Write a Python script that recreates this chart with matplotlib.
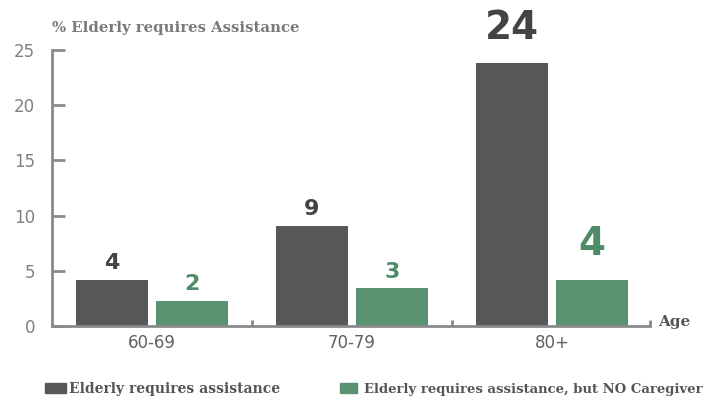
import numpy as np
import matplotlib.pyplot as plt

# data
ages = ['60-69', '70-79', '80+']
needs_help = [4.2, 9.1, 23.8]
no_caregiver = [2.3, 3.4, 4.2]
help_labels = ['4', '9', '24']
nocare_labels = ['2', '3', '4']
help_sizes = [16, 16, 28]
nocare_sizes = [16, 16, 28]

dark = '#58585b'
green = '#5a9272'
axis_gray = '#8a8a8a'

fig = plt.figure(figsize=(7.17, 3.98), dpi=100)
ax = fig.add_axes([0.0725, 0.181, 0.834, 0.693])

x = np.arange(len(ages))
w = 0.36
ax.bar(x - 0.2, needs_help, width=w, color=dark)
ax.bar(x + 0.2, no_caregiver, width=w, color=green)

for xi, v, lab, fs in zip(x, needs_help, help_labels, help_sizes):
    ax.annotate(lab, (xi - 0.2, v), xytext=(0, 5 if fs < 20 else 12),
                textcoords='offset points', ha='center', va='bottom',
                fontsize=fs, fontweight='bold', color='#444447')
for xi, v, lab, fs in zip(x, no_caregiver, nocare_labels, nocare_sizes):
    ax.annotate(lab, (xi + 0.2, v), xytext=(0, 5 if fs < 20 else 12),
                textcoords='offset points', ha='center', va='bottom',
                fontsize=fs, fontweight='bold', color='#4e8b67')

ax.set_xlim(-0.5, 2.49)
ax.set_ylim(0, 25)
ax.set_yticks([0, 5, 10, 15, 20, 25])
ax.set_xticks(x)
ax.set_xticklabels(ages)
ax.set_xticks([0.5, 1.5, 2.49], minor=True)

for s in ['top', 'right']:
    ax.spines[s].set_visible(False)
for s in ['left', 'bottom']:
    ax.spines[s].set_color(axis_gray)
    ax.spines[s].set_linewidth(2)

ax.tick_params(axis='y', direction='in', length=9, width=2, color=axis_gray,
               labelcolor='#808080', labelsize=12, pad=12)
ax.tick_params(axis='x', which='major', length=0, labelcolor='#606060',
               labelsize=12, pad=6)
ax.tick_params(axis='x', which='minor', direction='in', length=4, width=2,
               color=axis_gray)

fig.text(0.0725, 0.93, '% Elderly requires Assistance', family='DejaVu Serif',
         fontweight='bold', fontsize=10.7, color='#7a7a7a', va='center')
fig.text(0.918, 0.19, 'Age', family='DejaVu Serif', fontweight='bold',
         fontsize=11, color='#555555', va='center')

# legend along the bottom
fig.patches.append(plt.Rectangle((0.063, 0.012), 0.029, 0.025, color=dark,
                                 transform=fig.transFigure))
fig.text(0.096, 0.022, 'Elderly requires assistance', family='DejaVu Serif',
         fontweight='bold', fontsize=10, color='#555555', va='center')
fig.patches.append(plt.Rectangle((0.474, 0.012), 0.024, 0.025, color=green,
                                 transform=fig.transFigure))
fig.text(0.508, 0.022, 'Elderly requires assistance, but NO Caregiver',
         family='DejaVu Serif', fontweight='bold', fontsize=9.5,
         color='#555555', va='center')

fig.savefig('out.png', dpi=100)
